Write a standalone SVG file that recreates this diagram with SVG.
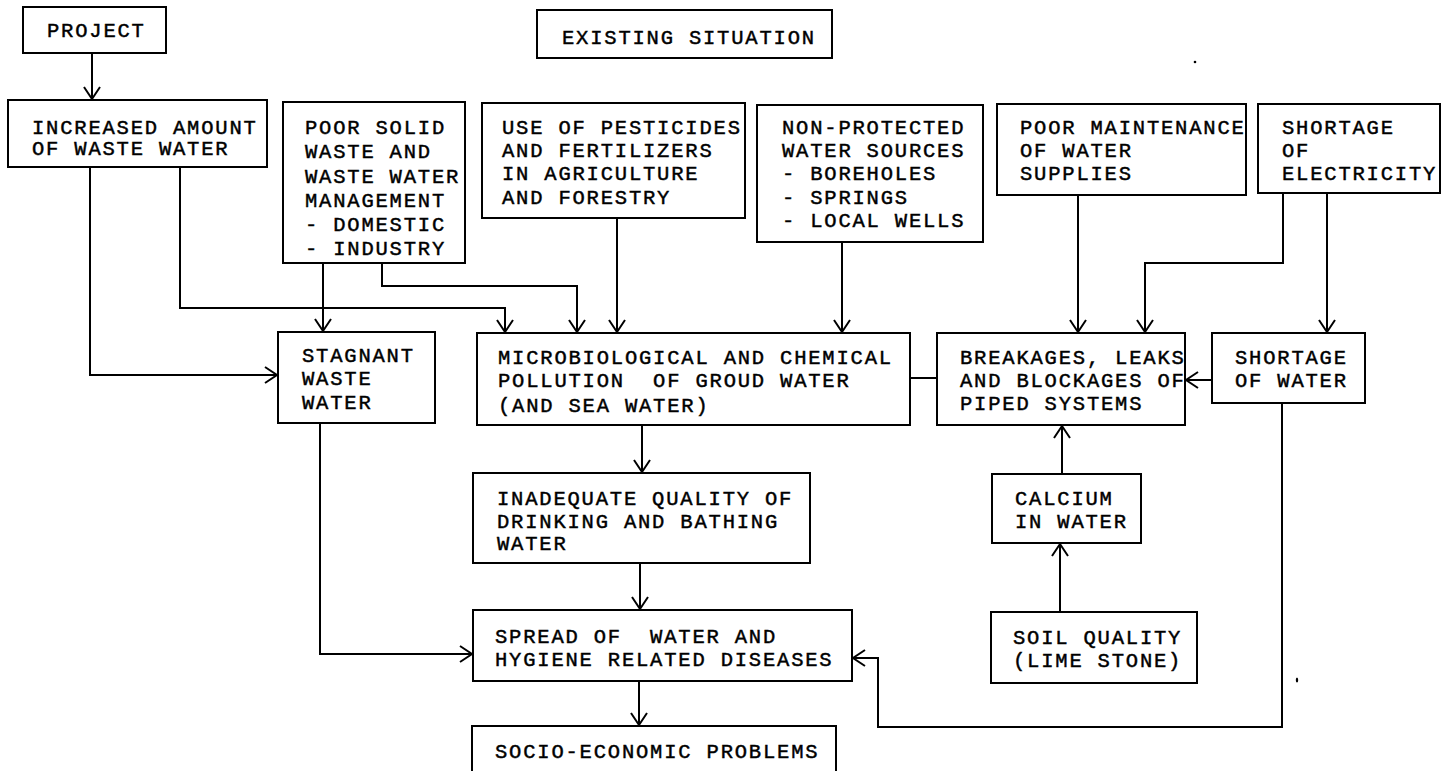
<svg xmlns="http://www.w3.org/2000/svg" width="1450" height="771" viewBox="0 0 1450 771">
<style>
.b{fill:#fff;stroke:#000;stroke-width:2}
.t{font-family:"Liberation Mono","DejaVu Sans Mono",monospace;font-size:20.5px;letter-spacing:1.8px;fill:#000;stroke:#000;stroke-width:0.45;white-space:pre}
.c{fill:none;stroke:#000;stroke-width:2}
.a{marker-end:url(#ah)}
</style>
<defs>
<marker id="ah" markerUnits="userSpaceOnUse" markerWidth="16" markerHeight="18" refX="12" refY="8" orient="auto" overflow="visible">
<path d="M0,0 L12,8 L0,16" fill="none" stroke="#000" stroke-width="2"/>
</marker>
</defs>
<rect width="1450" height="771" fill="#fff"/>
<g id="connectors">
<path class="c a" d="M92,53 V99"/>
<path class="c a" d="M90,167 V375 H277"/>
<path class="c a" d="M180,167 V308 H505 V332"/>
<path class="c a" d="M323,263 V331"/>
<path class="c a" d="M382,263 V286 H577 V332"/>
<path class="c a" d="M617,218 V332"/>
<path class="c a" d="M842,242 V332"/>
<path class="c" d="M910,378 H937"/>
<path class="c a" d="M1078,195 V332"/>
<path class="c a" d="M1283,193 V263 H1145 V332"/>
<path class="c a" d="M1327,193 V332"/>
<path class="c a" d="M1212,380 H1186"/>
<path class="c a" d="M1062,474 V426"/>
<path class="c a" d="M1060,612 V544"/>
<path class="c a" d="M642,425 V472"/>
<path class="c a" d="M640,563 V609"/>
<path class="c a" d="M320,423 V654 H472"/>
<path class="c a" d="M1282,403 V727 H878 V658 H853"/>
<path class="c a" d="M639,681 V725"/>
</g>
<g id="project"><rect class="b" x="23" y="7" width="143" height="46"/><text class="t" x="47" y="37">PROJECT</text></g>
<g id="existing"><rect class="b" x="537" y="10" width="295" height="48"/><text class="t" x="562" y="44">EXISTING SITUATION</text></g>
<g id="increased"><rect class="b" x="8" y="100" width="259" height="67"/><text class="t"><tspan x="32" y="134">INCREASED AMOUNT</tspan><tspan x="32" y="155">OF WASTE WATER</tspan></text></g>
<g id="poorsolid"><rect class="b" x="283" y="102" width="182" height="161"/><text class="t"><tspan x="305" y="134">POOR SOLID</tspan><tspan x="305" y="158">WASTE AND</tspan><tspan x="305" y="183">WASTE WATER</tspan><tspan x="305" y="207">MANAGEMENT</tspan><tspan x="305" y="231">- DOMESTIC</tspan><tspan x="305" y="255">- INDUSTRY</tspan></text></g>
<g id="pesticides"><rect class="b" x="482" y="103" width="263" height="115"/><text class="t"><tspan x="502" y="134">USE OF PESTICIDES</tspan><tspan x="502" y="157">AND FERTILIZERS</tspan><tspan x="502" y="180">IN AGRICULTURE</tspan><tspan x="502" y="204">AND FORESTRY</tspan></text></g>
<g id="nonprotected"><rect class="b" x="757" y="105" width="226" height="137"/><text class="t"><tspan x="782" y="134">NON-PROTECTED</tspan><tspan x="782" y="157">WATER SOURCES</tspan><tspan x="782" y="180">- BOREHOLES</tspan><tspan x="782" y="204">- SPRINGS</tspan><tspan x="782" y="227">- LOCAL WELLS</tspan></text></g>
<g id="maintenance"><rect class="b" x="997" y="104" width="249" height="91"/><text class="t"><tspan x="1020" y="134">POOR MAINTENANCE</tspan><tspan x="1020" y="157">OF WATER</tspan><tspan x="1020" y="180">SUPPLIES</tspan></text></g>
<g id="electricity"><rect class="b" x="1258" y="104" width="182" height="89"/><text class="t"><tspan x="1282" y="134">SHORTAGE</tspan><tspan x="1282" y="157">OF</tspan><tspan x="1282" y="180">ELECTRICITY</tspan></text></g>
<g id="stagnant"><rect class="b" x="278" y="332" width="157" height="91"/><text class="t"><tspan x="302" y="362">STAGNANT</tspan><tspan x="302" y="385">WASTE</tspan><tspan x="302" y="409">WATER</tspan></text></g>
<g id="pollution"><rect class="b" x="477" y="333" width="433" height="92"/><text class="t" xml:space="preserve"><tspan x="498" y="364">MICROBIOLOGICAL AND CHEMICAL</tspan><tspan x="498" y="387">POLLUTION  OF GROUD WATER</tspan><tspan x="498" y="412">(AND SEA WATER)</tspan></text></g>
<g id="breakages"><rect class="b" x="937" y="333" width="248" height="92"/><text class="t"><tspan x="960" y="364">BREAKAGES, LEAKS</tspan><tspan x="960" y="387">AND BLOCKAGES OF</tspan><tspan x="960" y="410">PIPED SYSTEMS</tspan></text></g>
<g id="shortagewater"><rect class="b" x="1212" y="333" width="153" height="70"/><text class="t"><tspan x="1235" y="364">SHORTAGE</tspan><tspan x="1235" y="387">OF WATER</tspan></text></g>
<g id="inadequate"><rect class="b" x="473" y="473" width="337" height="90"/><text class="t"><tspan x="497" y="505">INADEQUATE QUALITY OF</tspan><tspan x="497" y="528">DRINKING AND BATHING</tspan><tspan x="497" y="550">WATER</tspan></text></g>
<g id="calcium"><rect class="b" x="992" y="474" width="149" height="69"/><text class="t"><tspan x="1015" y="505">CALCIUM</tspan><tspan x="1015" y="528">IN WATER</tspan></text></g>
<g id="spread"><rect class="b" x="473" y="610" width="379" height="71"/><text class="t" xml:space="preserve"><tspan x="495" y="643">SPREAD OF  WATER AND</tspan><tspan x="495" y="666">HYGIENE RELATED DISEASES</tspan></text></g>
<g id="soil"><rect class="b" x="991" y="612" width="206" height="71"/><text class="t"><tspan x="1013" y="644">SOIL QUALITY</tspan><tspan x="1013" y="667">(LIME STONE)</tspan></text></g>
<g id="socio"><rect class="b" x="472" y="726" width="364" height="80"/><text class="t" x="495" y="758">SOCIO-ECONOMIC PROBLEMS</text></g>
<circle cx="1195" cy="62" r="1.3" fill="#000"/>
<ellipse cx="1297" cy="680" rx="1.2" ry="2.5" fill="#000"/>
</svg>
